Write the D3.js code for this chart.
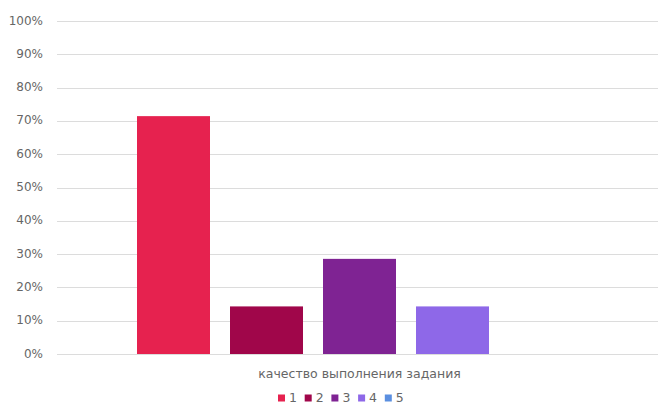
<!DOCTYPE html>
<html>
<head>
    <meta charset="utf-8">
    <title>Качество выполнения задания</title>
    <script src="https://d3js.org/d3.v7.min.js"></script>
    <style>
        body { margin: 0; background: #fff; }
        text { font-family: "DejaVu Sans", sans-serif; fill: #666666; }
    </style>
</head>
<body>
    <div id="chart"></div>

    <script>
        const category = "качество выполнения задания";
        const seriesNames = ["1", "2", "3", "4", "5"];
        const seriesValues = [71.43, 14.29, 28.57, 14.29, 0];
        const seriesColors = ["#e6224f", "#a0064a", "#7f2393", "#8e68e8", "#5b8fe0"];
        const yTicks = [0, 10, 20, 30, 40, 50, 60, 70, 80, 90, 100];

        const width = 658;
        const height = 405;
        const margin = { top: 21, right: 0, bottom: 51, left: 57 };

        const svg = d3.select("#chart")
            .append("svg")
            .attr("width", width)
            .attr("height", height);

        const y = d3.scaleLinear()
            .domain([0, 100])
            .range([height - margin.bottom, margin.top]);

        // one category, bars grouped inside it
        const x0 = d3.scaleBand()
            .domain([category])
            .range([margin.left, width - margin.right + 4]);

        const groupWidth = 445;
        const x1 = d3.scaleBand()
            .domain(seriesNames)
            .range([x0(category) + (x0.bandwidth() - groupWidth) / 2,
                    x0(category) + (x0.bandwidth() + groupWidth) / 2])
            .paddingInner(20 / 93);

        // gridlines
        svg.append("g")
            .selectAll("line")
            .data(yTicks)
            .enter()
            .append("line")
            .attr("x1", margin.left)
            .attr("x2", width)
            .attr("y1", d => Math.round(y(d)) + 0.5)
            .attr("y2", d => Math.round(y(d)) + 0.5)
            .attr("stroke", "#dcdcdc")
            .attr("stroke-width", 1.2);

        // y tick labels
        svg.append("g")
            .selectAll("text")
            .data(yTicks)
            .enter()
            .append("text")
            .attr("x", 43)
            .attr("y", d => y(d))
            .attr("text-anchor", "end")
            .attr("dominant-baseline", "middle")
            .style("font-size", "12px")
            .text(d => d + "%");

        // bars
        svg.append("g")
            .selectAll("rect")
            .data(seriesNames.map((s, i) => ({ name: s, value: seriesValues[i], color: seriesColors[i] })))
            .enter()
            .append("rect")
            .attr("x", d => x1(d.name))
            .attr("y", d => y(d.value))
            .attr("width", x1.bandwidth())
            .attr("height", d => y(0) - y(d.value))
            .attr("fill", d => d.color);

        // category label
        svg.append("text")
            .attr("x", x0(category) + x0.bandwidth() / 2)
            .attr("y", 374)
            .attr("text-anchor", "middle")
            .attr("dominant-baseline", "middle")
            .style("font-size", "12.5px")
            .text(category);

        // legend
        const legend = svg.append("g")
            .selectAll("g")
            .data(seriesNames)
            .enter()
            .append("g")
            .attr("transform", (d, i) => `translate(${278 + i * 26.7}, 398)`);

        legend.append("rect")
            .attr("x", 0)
            .attr("y", -3.5)
            .attr("width", 7)
            .attr("height", 7)
            .attr("fill", (d, i) => seriesColors[i]);

        legend.append("text")
            .attr("x", 11)
            .attr("y", 0)
            .attr("dominant-baseline", "middle")
            .style("font-size", "12.5px")
            .text(d => d);
    </script>
</body>
</html>
